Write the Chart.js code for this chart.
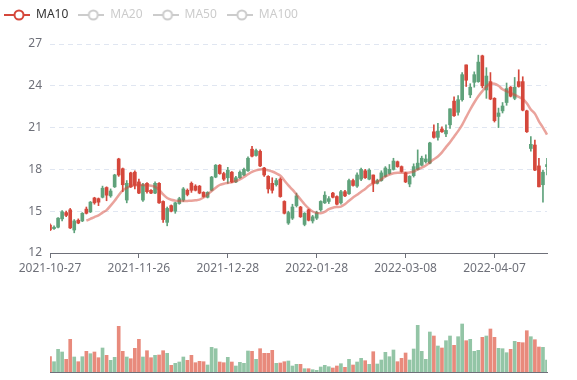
<!DOCTYPE html>
<html>
<head>
<meta charset="utf-8">
<script src="https://cdn.jsdelivr.net/npm/chart.js"></script>
<style>
body{margin:0;background:#fff}
#caja{position:relative;width:577px;height:380px}
canvas{position:absolute;left:0}
</style>
</head>
<body>
<div id="caja">
<canvas id="precio" width="577" height="290" style="top:0"></canvas>
<canvas id="volumen" width="577" height="80" style="top:300px"></canvas>
</div>
<script>
var fechas = ['2021-10-27','2021-10-28','2021-10-29',
'2021-11-01','2021-11-02','2021-11-03','2021-11-04','2021-11-05',
'2021-11-08','2021-11-09','2021-11-10','2021-11-11','2021-11-12',
'2021-11-15','2021-11-16','2021-11-17','2021-11-18','2021-11-19',
'2021-11-22','2021-11-23','2021-11-24','2021-11-25','2021-11-26',
'2021-11-29','2021-11-30','2021-12-01','2021-12-02','2021-12-03',
'2021-12-06','2021-12-07','2021-12-08','2021-12-09','2021-12-10',
'2021-12-13','2021-12-14','2021-12-15','2021-12-16','2021-12-17',
'2021-12-20','2021-12-21','2021-12-22','2021-12-23','2021-12-24',
'2021-12-27','2021-12-28','2021-12-29','2021-12-30','2021-12-31',
'2022-01-04','2022-01-05','2022-01-06','2022-01-07',
'2022-01-10','2022-01-11','2022-01-12','2022-01-13','2022-01-14',
'2022-01-17','2022-01-18','2022-01-19','2022-01-20','2022-01-21',
'2022-01-24','2022-01-25','2022-01-26','2022-01-27','2022-01-28',
'2022-02-07','2022-02-08','2022-02-09','2022-02-10','2022-02-11',
'2022-02-14','2022-02-15','2022-02-16','2022-02-17','2022-02-18',
'2022-02-21','2022-02-22','2022-02-23','2022-02-24','2022-02-25',
'2022-02-28','2022-03-01','2022-03-02','2022-03-03','2022-03-04',
'2022-03-07','2022-03-08','2022-03-09','2022-03-10','2022-03-11',
'2022-03-14','2022-03-15','2022-03-16','2022-03-17','2022-03-18',
'2022-03-21','2022-03-22','2022-03-23','2022-03-24','2022-03-25',
'2022-03-28','2022-03-29','2022-03-30','2022-03-31','2022-04-01',
'2022-04-04','2022-04-05','2022-04-06','2022-04-07','2022-04-08',
'2022-04-11','2022-04-12','2022-04-13','2022-04-14','2022-04-15',
'2022-04-18','2022-04-19','2022-04-20','2022-04-21','2022-04-22',
'2022-04-25','2022-04-26'];

var etiquetasX = ['2021-10-27','2021-11-26','2021-12-28','2022-01-28','2022-03-08','2022-04-07'];

var apertura = [14.00,13.75,13.85,14.45,14.90,15.10,13.65,14.35,14.30,15.15,
14.95,15.95,15.90,16.00,16.70,16.10,16.75,18.75,18.05,15.80,
17.75,17.80,17.10,15.80,17.00,16.50,16.30,17.00,15.70,14.20,
15.40,15.00,15.55,15.80,16.50,17.00,16.80,16.80,16.35,16.00,
16.50,17.45,18.30,17.70,17.40,17.80,17.10,17.40,17.60,17.90,
19.45,19.00,19.30,18.10,17.50,17.00,16.90,17.30,15.70,14.15,
14.50,15.40,15.30,14.05,15.10,14.30,14.50,15.10,15.60,15.70,
16.30,16.05,15.60,16.40,16.25,17.20,16.80,17.30,17.90,17.30,
17.60,17.00,17.20,17.50,17.70,18.00,18.55,18.20,17.75,16.95,
17.55,18.00,18.30,18.55,18.45,20.70,20.30,20.90,20.55,21.20,
22.90,22.10,23.00,25.50,23.35,24.25,24.30,26.15,23.70,24.30,
23.10,21.80,22.20,22.80,23.90,23.10,24.30,24.30,22.20,19.50,
19.75,18.25,16.90,18.20];
var cierre = [13.65,13.85,14.50,14.95,14.70,13.80,14.30,14.15,14.85,14.85,
15.65,15.60,15.65,16.65,16.15,16.45,17.60,17.60,16.90,17.00,
16.75,16.85,16.30,16.90,16.40,16.30,17.00,15.60,14.40,15.20,
15.00,15.60,15.90,16.60,16.20,16.50,16.50,16.30,16.05,16.35,
17.45,18.30,17.70,17.30,17.95,17.10,17.40,17.80,18.00,18.80,
18.95,19.35,18.25,17.60,16.60,16.50,17.20,16.05,14.85,14.90,
15.30,16.10,14.60,14.85,14.35,14.60,14.90,15.70,16.15,15.90,
16.00,15.50,16.40,16.10,17.20,16.85,17.60,18.00,17.40,17.95,
17.00,17.20,17.75,18.10,18.00,18.60,18.20,17.85,17.10,17.50,
18.20,18.45,18.80,18.75,19.90,20.30,20.75,20.70,20.80,22.35,
21.85,23.00,24.80,24.40,23.90,24.80,25.70,24.00,24.70,23.05,
21.50,22.05,22.55,23.80,23.25,23.90,23.95,22.25,20.70,19.80,
17.95,16.75,17.80,18.35];
var minimo = [13.60,13.70,13.80,14.30,14.60,13.75,13.45,14.10,14.25,14.80,
14.90,15.50,15.40,15.95,15.75,16.00,16.70,17.50,16.40,15.60,
16.70,16.60,16.25,15.70,16.30,16.25,16.25,15.55,14.20,13.95,
14.95,14.85,15.50,15.70,16.10,16.35,16.45,16.25,16.00,15.95,
16.45,17.40,17.65,17.20,17.00,17.05,17.05,17.35,17.55,17.85,
18.90,18.95,18.20,17.50,16.30,16.30,16.80,16.00,14.80,14.05,
14.40,15.30,14.55,13.95,14.30,14.15,14.40,15.00,15.55,15.55,
15.95,15.45,15.50,16.05,16.20,16.80,16.70,17.20,17.35,17.25,
16.40,16.95,17.15,17.45,17.65,17.95,18.15,17.80,17.05,16.75,
17.45,17.95,18.25,18.45,18.40,20.25,20.10,20.65,20.35,20.95,
21.80,21.90,22.90,23.95,23.15,23.90,24.25,23.85,23.10,23.00,
21.40,21.00,22.05,22.60,23.20,23.00,23.90,22.20,20.65,19.30,
17.90,16.75,15.65,17.60];
var maximo = [14.10,13.95,14.55,15.05,15.00,15.20,14.40,14.45,14.90,15.30,
15.70,16.00,15.95,16.80,16.75,16.60,17.65,18.80,18.10,17.20,
17.80,17.90,17.30,17.00,17.05,16.55,17.10,17.05,15.75,15.30,
15.45,15.65,16.00,16.70,16.60,17.10,16.90,16.85,16.40,16.40,
17.50,18.35,18.35,17.80,18.15,17.85,17.50,17.90,18.10,18.90,
19.65,19.45,19.40,18.15,17.55,17.40,17.35,17.40,15.75,15.00,
15.50,16.30,15.35,14.90,15.15,14.70,15.00,15.75,16.40,16.05,
16.35,16.10,16.50,16.50,17.30,17.30,17.75,18.10,18.00,18.05,
17.60,17.30,17.90,18.20,18.35,18.80,18.60,18.25,17.80,17.55,
18.40,19.40,18.95,19.05,19.95,21.20,21.30,21.05,21.20,22.35,
23.20,23.30,24.95,25.50,24.15,25.00,26.20,26.20,25.30,24.95,
23.15,22.40,22.80,24.20,23.95,24.60,25.15,24.65,22.25,20.35,
20.10,18.80,17.95,18.80];
var volumen = [15.3,10.3,22.7,20.0,12.7,32.7,15.0,10.3,15.3,20.7,
18.3,20.0,14.3,24.0,16.7,11.7,14.7,45.7,20.7,15.0,
13.3,23.7,32.7,15.0,21.3,14.3,16.7,17.0,21.3,18.7,
6.7,8.7,10.0,15.0,11.7,16.7,9.3,10.7,10.3,7.0,
24.7,23.3,10.0,9.3,14.7,10.0,6.0,9.7,8.7,21.0,
20.7,12.7,23.3,18.7,18.7,21.7,8.7,9.0,10.3,11.0,
6.0,7.7,7.7,3.3,3.3,2.3,1.7,5.0,6.7,5.3,
4.0,6.0,8.3,4.7,12.7,7.0,10.0,13.7,11.3,7.7,
20.3,8.0,12.0,19.7,15.3,22.0,10.3,13.7,19.0,12.0,
23.0,46.7,20.7,12.7,40.0,36.0,26.0,24.0,31.3,36.0,
26.7,35.3,48.0,31.3,32.7,20.7,21.7,34.7,36.0,43.0,
34.7,23.7,23.3,19.3,22.7,30.7,29.7,29.3,41.3,35.3,
32.3,25.0,24.7,12.0];
var ma10 = [null,null,null,null,null,null,null,null,null,14.32,
14.45,14.58,14.70,14.90,15.08,15.40,15.75,16.15,16.50,16.68,
16.80,16.86,16.88,16.88,16.86,16.83,16.75,16.55,16.20,15.95,
15.82,15.76,15.73,15.73,15.74,15.75,15.78,15.83,15.98,16.20,
16.45,16.68,16.88,16.97,17.03,17.08,17.16,17.28,17.45,17.65,
17.82,17.93,18.00,18.00,17.93,17.85,17.72,17.55,17.20,16.85,
16.55,16.20,15.85,15.50,15.20,14.98,14.88,14.85,14.95,15.15,
15.25,15.30,15.33,15.50,15.75,15.98,16.18,16.40,16.60,16.85,
17.00,17.12,17.28,17.50,17.62,17.72,17.76,17.76,17.76,17.78,
17.85,18.00,18.12,18.28,18.50,18.72,18.93,19.22,19.60,19.95,
20.35,20.75,21.20,21.75,22.30,22.80,23.25,23.62,23.95,24.15,
24.15,24.00,23.75,23.62,23.48,23.35,23.20,23.05,22.75,22.30,
22.00,21.45,21.00,20.50];

var nombresMA = ['MA10','MA20','MA50','MA100'];
var activosMA = [true,false,false,false];

var verde = '#5fa27b', rojo = '#d5473b';
var verdeVol = '#93c5a6', rojoVol = '#e88a7c';

Chart.defaults.font.family = 'Noto Sans';
Chart.defaults.font.size = 12;
Chart.defaults.color = '#6e7079';

var colores = [], coloresVol = [], cuerpos = [], mechas = [];
for (var i = 0; i < fechas.length; i++) {
    var sube = cierre[i] >= apertura[i];
    colores.push(sube ? verde : rojo);
    coloresVol.push(sube ? verdeVol : rojoVol);
    cuerpos.push([apertura[i], cierre[i]]);
    mechas.push([minimo[i], maximo[i]]);
}

// icono de leyenda: linea con circulo hueco
function icono(color) {
    var c = document.createElement('canvas');
    c.width = 26; c.height = 14;
    var g = c.getContext('2d');
    g.strokeStyle = color;
    g.lineWidth = 2;
    g.beginPath(); g.moveTo(0, 7); g.lineTo(26, 7); g.stroke();
    g.beginPath(); g.arc(15, 7, 4.5, 0, Math.PI * 2);
    g.fillStyle = '#fff'; g.fill(); g.stroke();
    return c;
}

var altoLeyenda = {
    id: 'altoLeyenda',
    beforeInit: function (chart) {
        var fit = chart.legend.fit;
        chart.legend.fit = function () { fit.call(this); this.height = 45; };
    }
};

new Chart(document.getElementById('precio'), {
    type: 'bar',
    data: {
        labels: fechas,
        datasets: [{
            type: 'line',
            label: 'MA10',
            data: ma10,
            borderColor: 'rgba(214,72,58,0.5)',
            borderWidth: 2.5,
            pointRadius: 0,
            tension: 0.35,
            fill: false,
            order: 0
        }, {
            label: 'cuerpo',
            data: cuerpos,
            backgroundColor: colores,
            borderWidth: 0,
            barThickness: 3,
            grouped: false,
            order: 1
        }, {
            label: 'mecha',
            data: mechas,
            backgroundColor: colores,
            borderWidth: 0,
            barThickness: 1,
            grouped: false,
            order: 2
        }]
    },
    options: {
        responsive: false,
        animation: false,
        layout: { padding: { left: -6, right: 30, top: -1, bottom: 7 } },
        plugins: {
            tooltip: { enabled: false },
            legend: {
                position: 'top',
                align: 'start',
                onClick: null,
                labels: {
                    usePointStyle: true,
                    pointStyleWidth: 26,
                    padding: 10,
                    font: { size: 12 },
                    generateLabels: function () {
                        return nombresMA.map(function (n, k) {
                            return {
                                text: n,
                                fontColor: activosMA[k] ? '#333' : '#ccc',
                                pointStyle: icono(activosMA[k] ? rojo : '#ccc'),
                                hidden: false,
                                lineWidth: 0,
                                datasetIndex: k
                            };
                        });
                    }
                }
            }
        },
        scales: {
            x: {
                offset: false,
                grid: { offset: false, drawOnChartArea: false, drawTicks: true, tickLength: 5, color: '#6e7079' },
                border: { display: true, color: '#6e7079' },
                ticks: { autoSkip: false, maxRotation: 0, padding: 3 },
                afterBuildTicks: function (s) {
                    s.ticks = s.ticks.filter(function (t) { return etiquetasX.indexOf(fechas[t.value]) >= 0; });
                },
                afterFit: function (s) { s.height = 30; }
            },
            y: {
                min: 12,
                max: 27,
                ticks: { stepSize: 3, padding: 8 },
                grid: { color: '#e0e6f1', drawTicks: false },
                border: { display: false, dash: [5, 4] },
                afterFit: function (s) { s.width = 56; }
            }
        }
    },
    plugins: [altoLeyenda]
});

new Chart(document.getElementById('volumen'), {
    type: 'bar',
    data: {
        labels: fechas,
        datasets: [{
            data: volumen,
            backgroundColor: coloresVol,
            borderWidth: 0,
            barThickness: 3
        }]
    },
    options: {
        responsive: false,
        animation: false,
        layout: { padding: { left: 50, right: 30, top: 22, bottom: 8 } },
        plugins: { legend: { display: false }, tooltip: { enabled: false } },
        scales: {
            x: {
                offset: false,
                grid: { display: false, offset: false },
                border: { display: true, color: '#6e7079' },
                ticks: { display: false },
                afterFit: function (s) { s.height = 0; }
            },
            y: { display: false, min: 0, max: 50 }
        }
    }
});
</script>
</body>
</html>
